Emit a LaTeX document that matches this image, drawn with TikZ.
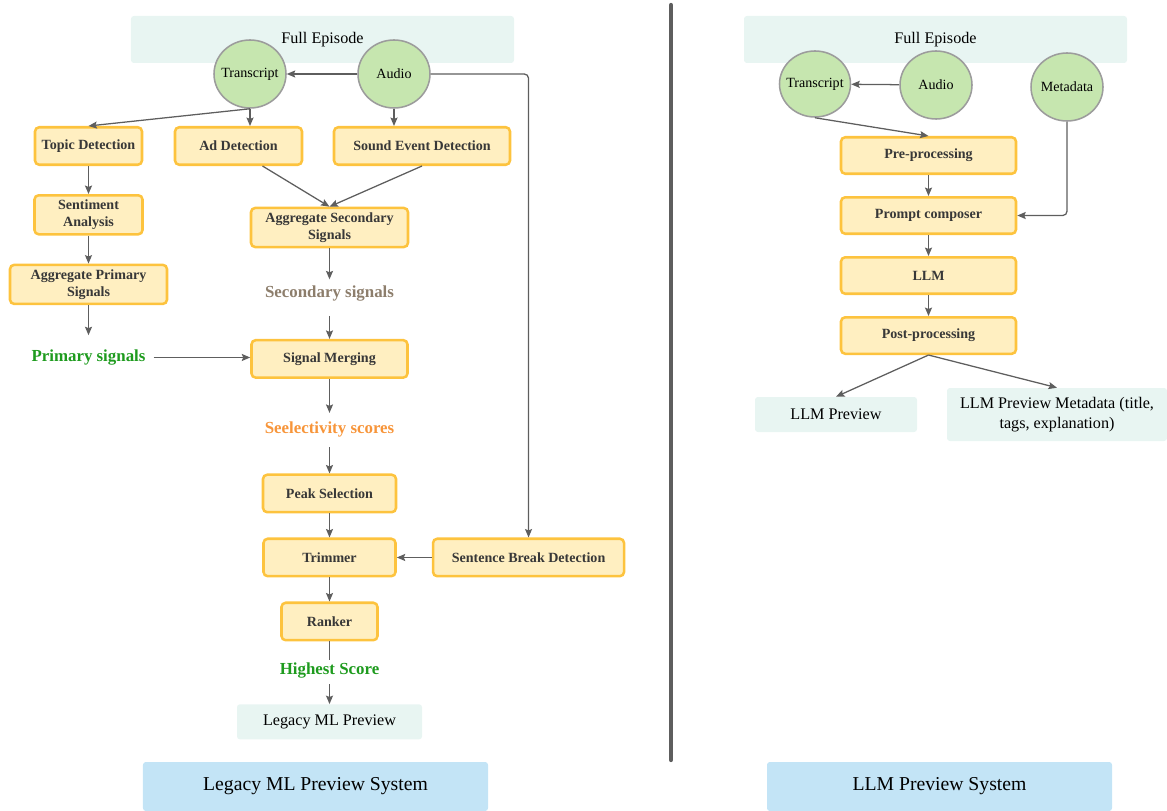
\documentclass[tikz,border=0pt]{standalone}
\usepackage{fontspec}
\setmainfont{Liberation Serif}
\usepackage{xcolor}
\definecolor{StepFill}{HTML}{FFEFC1}
\definecolor{StepLine}{HTML}{FDC33E}
\definecolor{SrcFill}{HTML}{C6E6AF}
\definecolor{SrcLine}{HTML}{9C9C9C}
\definecolor{OutFill}{HTML}{E8F5F2}
\definecolor{SysFill}{HTML}{C3E4F6}
\definecolor{ArrGray}{HTML}{5E5E5E}
\definecolor{TextDark}{HTML}{383838}
\definecolor{SigGreen}{HTML}{1E9B1E}
\definecolor{SigTaupe}{HTML}{8D7E6C}
\definecolor{SigOrange}{HTML}{F7953A}
\usepackage{tikz}
\usetikzlibrary{shapes.geometric, arrows.meta, positioning}

\begin{document}
\begin{tikzpicture}[
  x=0.25mm, y=-0.25mm,
  font=\fontsize{10}{12}\selectfont,
  proc/.style={
    rectangle, rounded corners=3pt,
    minimum height=9.37mm, align=center,
    draw=StepLine, fill=StepFill, line width=1.8pt,
    font=\fontsize{10}{12}\selectfont\bfseries, text=TextDark
  },
  src/.style={
    ellipse, minimum width=18mm, minimum height=17mm,
    draw=SrcLine, fill=SrcFill, line width=1.1pt,
    inner xsep=-2mm, inner ysep=0pt
  },
  band/.style={
    rectangle, rounded corners=2pt, fill=OutFill,
    minimum width=95.75mm, minimum height=11.75mm,
    font=\fontsize{11.5}{13}\selectfont
  },
  result/.style={
    rectangle, rounded corners=2pt, fill=OutFill,
    align=center, font=\fontsize{11.5}{14}\selectfont
  },
  sys/.style={
    rectangle, rounded corners=2pt, fill=SysFill,
    minimum width=86.25mm, minimum height=12.25mm,
    font=\fontsize{14}{16}\selectfont
  },
  sig/.style={inner sep=0pt, minimum height=5mm, font=\fontsize{12}{14}\selectfont\bfseries},
  arr/.style={-{Stealth[length=6pt, width=5pt, inset=1pt]}, line width=0.9pt, color=ArrGray},
  link/.style={line width=0.9pt, color=ArrGray},
]
\useasboundingbox (0,0) rectangle (1167,811);

% legacy ML side
\node[band] (lepisode) at (322.5,39.5) {Full Episode};
\node[src] (ltrans) at (250,74) {Transcript};
\node[src] (laudio) at (394,74) {Audio};

\node[proc, minimum width=26.75mm] (topic) at (88.5,146) {Topic Detection};
\node[proc, minimum width=31.75mm] (addet) at (238.5,146) {Ad Detection};
\node[proc, minimum width=44mm] (sound) at (422,146) {Sound Event Detection};

\node[proc, minimum width=27mm, below=7mm of topic] (senti) {Sentiment\\Analysis};
\node[proc, minimum width=39.25mm, below=7mm of senti] (aggprim) {Aggregate Primary\\Signals};
\node[sig, text=SigGreen, below=10.5mm of aggprim] (primsig) {Primary signals};

\node[proc, minimum width=39.25mm] (aggsec) at (329.5,227.5) {Aggregate Secondary\\Signals};
\node[sig, text=SigTaupe, below=8.75mm of aggsec] (secsig) {Secondary signals};
\node[proc, minimum width=39mm, below=8.75mm of secsig] (merge) {Signal Merging};
\node[sig, text=SigOrange, below=10mm of merge] (selscore) {Seelectivity scores};
\node[proc, minimum width=33.25mm, below=8.5mm of selscore] (peak) {Peak Selection};
\node[proc, minimum width=33mm, below=6mm of peak] (trim) {Trimmer};
\node[proc, minimum width=47.75mm, right=8.75mm of trim] (sbd) {Sentence Break Detection};
\node[proc, minimum width=24mm, below=6mm of trim] (ranker) {Ranker};
\node[sig, text=SigGreen, below=4.75mm of ranker] (highest) {Highest Score};
\node[result, minimum width=46.25mm, minimum height=8.75mm, below=5.75mm of highest] (legprev) {Legacy ML Preview};

\node[sys] (legsys) at (315.5,786.5) {Legacy ML Preview System};

% LLM side
\node[band] (repisode) at (935.5,39.5) {Full Episode};
\node[src, minimum width=17.75mm, minimum height=16.5mm] (rtrans) at (815,84) {Transcript};
\node[src] (raudio) at (936,85) {Audio};
\node[src] (rmeta) at (1067,87) {Metadata};

\node[proc, minimum width=43.75mm, minimum height=9.12mm] (pre) at (928.5,155.5) {Pre-processing};
\node[proc, minimum width=43.75mm, minimum height=9.12mm, below=5.25mm of pre] (prompt) {Prompt composer};
\node[proc, minimum width=43.75mm, minimum height=9.12mm, below=5.25mm of prompt] (llm) {LLM};
\node[proc, minimum width=43.75mm, minimum height=9.12mm, below=5.25mm of llm] (post) {Post-processing};

\node[result, minimum width=40.5mm, minimum height=8.75mm] (llmprev) at (836,414.5) {LLM Preview};
\node[result, minimum width=55mm, minimum height=13.25mm] (llmmeta) at (1057,414.5) {LLM Preview Metadata (title,\\tags, explanation)};

\node[sys] (llmsys) at (939.5,786.5) {LLM Preview System};

% divider
\draw[line width=3pt, color=ArrGray, line cap=round] (671,5) -- (671,760);

% connectors, legacy ML side
\draw[arr] (laudio) -- (ltrans);
\draw[arr, rounded corners=3pt] (laudio.east) -| (sbd.north);
\draw[arr] (ltrans.south) -- (topic.north);
\draw[arr] (ltrans.south) -- (ltrans.south |- addet.north);
\draw[arr] (laudio.south) -- (laudio.south |- sound.north);
\draw[arr] ([xshift=6mm]addet.south) -- (aggsec.north);
\draw[arr] (sound.south) -- (aggsec.north);
\draw[arr] (topic) -- (senti);
\draw[arr] (senti) -- (aggprim);
\draw[arr, shorten >=3mm] (aggprim) -- (primsig);
\draw[arr, shorten <=2mm] (primsig.east) -- (primsig.east -| merge.west);
\draw[arr, shorten >=1mm] (aggsec) -- (secsig);
\draw[arr, shorten <=3mm] (secsig) -- (merge);
\draw[arr, shorten >=1.5mm] (merge) -- (selscore);
\draw[arr, shorten <=2mm] (selscore) -- (peak);
\draw[arr] (peak) -- (trim);
\draw[arr] (sbd) -- (trim);
\draw[arr] (trim) -- (ranker);
\draw[link] (ranker) -- (highest);
\draw[arr, shorten <=0.75mm] (highest) -- (legprev);

% connectors, LLM side
\draw[arr] (raudio) -- (rtrans);
\draw[arr] (rtrans.south) -- (pre.north);
\draw[arr, rounded corners=3pt] (rmeta.south) |- (prompt.east);
\draw[arr] (pre) -- (prompt);
\draw[arr] (prompt) -- (llm);
\draw[arr] (llm) -- (post);
\draw[arr] (post.south) -- (llmprev.north);
\draw[arr] (post.south) -- (llmmeta.north);

\end{tikzpicture}
\end{document}
